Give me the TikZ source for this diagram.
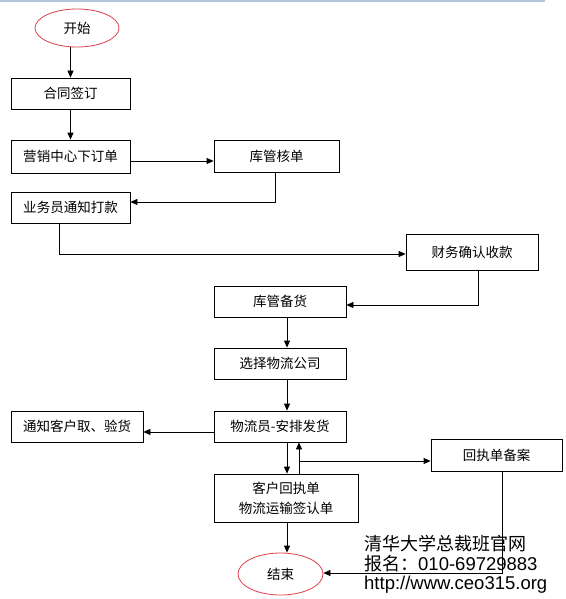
\documentclass[tikz,border=0pt]{standalone}
\usepackage{fontspec}
\usepackage{tikz}
\usetikzlibrary{shapes.geometric,arrows.meta}
\newfontfamily\cjk{Noto Sans CJK SC}
\newfontfamily\latinsans{Liberation Sans}
\definecolor{ovalred}{RGB}{222,64,72}
\definecolor{topline}{RGB}{176,198,218}
\tikzset{
  procbox/.style={draw, line width=0.8pt, inner sep=0pt, align=center,
    font=\cjk\fontsize{13.5}{20}\selectfont},
  termoval/.style={ellipse, draw=ovalred, line width=0.8pt, inner sep=0pt,
    font=\cjk\fontsize{13.5}{20}\selectfont},
  flowarrow/.style={-{Triangle[length=7pt,width=6pt]}, line width=0.8pt},
  watermark/.style={anchor=base west, inner sep=0pt}
}

\begin{document}
\begin{tikzpicture}[x=1pt, y=-1pt]
    \useasboundingbox (0,0) rectangle (565,599);
    % Draw the rule along the top edge
    \draw[topline, line width=1.6pt] (0,1) -- (545,1);
    % Draw the start and end ovals
    \node[termoval, minimum width=84pt, minimum height=38pt] (start) at (77,28) {开始};
    \node[termoval, minimum width=85pt, minimum height=42pt] (finish) at (280.5,574) {结束};
    % Draw the process boxes
    \node[procbox, minimum width=119pt, minimum height=31pt] (hetong) at (70.5,93.5) {合同签订};
    \node[procbox, minimum width=119pt, minimum height=33pt] (yingxiao) at (70.5,156.5) {营销中心下订单};
    \node[procbox, minimum width=125pt, minimum height=32pt] (kuguan) at (276.5,156) {库管核单};
    \node[procbox, minimum width=119pt, minimum height=31pt] (yewu) at (70.5,207.5) {业务员通知打款};
    \node[procbox, minimum width=132pt, minimum height=36pt] (caiwu) at (472,252) {财务确认收款};
    \node[procbox, minimum width=132pt, minimum height=31pt] (beihuo) at (280,301.5) {库管备货};
    \node[procbox, minimum width=132pt, minimum height=31pt] (xuanze) at (280,363.5) {选择物流公司};
    \node[procbox, minimum width=132pt, minimum height=31pt] (fahuo) at (280,426.5) {物流员-安排发货};
    \node[procbox, minimum width=132pt, minimum height=31pt] (tongzhi) at (77,426.5) {通知客户取、验货};
    \node[procbox, minimum width=144pt, minimum height=48pt] (huizhi) at (286,498) {客户回执单\\物流运输签认单};
    \node[procbox, minimum width=131pt, minimum height=32pt] (beian) at (496.5,455) {回执单备案};
    % Draw the connectors
    \draw[flowarrow] (hetong.north |- start.south) -- (hetong.north);
    \draw[flowarrow] (hetong) -- (yingxiao);
    \draw[flowarrow] ([yshift=-4.5pt]yingxiao.east) -- ([yshift=-4.5pt]yingxiao.east -| kuguan.west);
    \draw[flowarrow] ([xshift=-1.5pt]kuguan.south) |- ([yshift=5.5pt]yewu.east);
    \draw[flowarrow] ([xshift=-11.5pt]yewu.south) |- ([yshift=-2pt]caiwu.west);
    \draw[flowarrow] ([xshift=6pt]caiwu.south) |- ([yshift=-3.5pt]beihuo.east);
    \draw[flowarrow] ([xshift=7pt]beihuo.south) -- ([xshift=7pt]xuanze.north);
    \draw[flowarrow] ([xshift=7pt]xuanze.south) -- ([xshift=7pt]fahuo.north);
    \draw[flowarrow] ([yshift=-5.5pt]fahuo.west) -- ([yshift=-5.5pt]fahuo.west -| tongzhi.east);
    \draw[flowarrow] ([xshift=7pt]fahuo.south) -- ([xshift=7pt]fahuo.south |- huizhi.north);
    \draw[flowarrow] ([xshift=19pt]fahuo.south |- huizhi.north) -- ([xshift=19pt]fahuo.south);
    \coordinate (branch) at (299,461);
    \draw[flowarrow] (branch) -- (branch -| beian.west);
    \draw[flowarrow] ([xshift=1pt]huizhi.south) -- ([xshift=1pt]huizhi.south |- finish.north);
    \draw[flowarrow] ([xshift=5.5pt]beian.south) |- ([yshift=1pt]finish.east);
    % Draw the site notice
    \node[watermark, font=\cjk\fontsize{18}{20}\selectfont] (wmname) at (364,550) {清华大学总裁班官网};
    \node[watermark] (wmtel) at (364,570) {{\cjk\fontsize{18}{20}\selectfont 报名：}{\latinsans\fontsize{18.5}{20}\selectfont 010-69729883}};
    \node[watermark, font=\latinsans\fontsize{18.5}{20}\selectfont] (wmurl) at (364,589) {http://www.ceo315.org};
\end{tikzpicture}
\end{document}
